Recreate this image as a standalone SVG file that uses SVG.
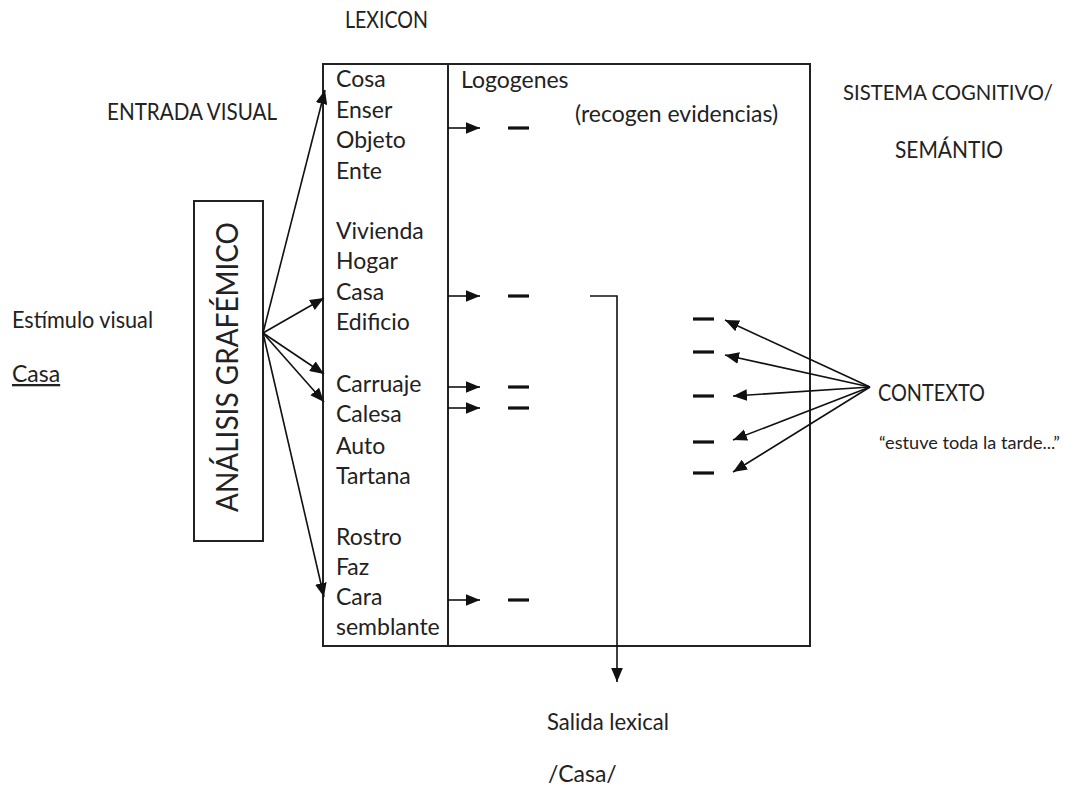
<svg xmlns="http://www.w3.org/2000/svg" width="1065" height="787" viewBox="0 0 1065 787">
<style>
text{font-family:Lato,"Open Sans","Liberation Sans",sans-serif;fill:#222;font-size:23px}
.small{font-size:17.5px}
.big{font-size:30px}
.sis{font-size:21px}
.box{fill:none;stroke:#222;stroke-width:2}
.ln{fill:none;stroke:#111;stroke-width:1.6}
.dash{stroke:#111;stroke-width:3.2}
</style>
<defs>
<marker id="ah" markerUnits="userSpaceOnUse" markerWidth="14" markerHeight="12" refX="12" refY="5" orient="auto" viewBox="0 0 12 10">
<path d="M0,0 L12,5 L0,10 Z" fill="#111"/>
</marker>
</defs>
<rect width="1065" height="787" fill="#fff"/>
<g id="labels">
<text x="345" y="28" textLength="83" lengthAdjust="spacingAndGlyphs">LEXICON</text>
<text x="107" y="120" textLength="170" lengthAdjust="spacingAndGlyphs">ENTRADA VISUAL</text>
<text class="sis" x="843" y="100" textLength="210" lengthAdjust="spacingAndGlyphs">SISTEMA COGNITIVO/</text>
<text x="895" y="158" textLength="108" lengthAdjust="spacingAndGlyphs">SEMÁNTIO</text>
<text x="12" y="328" textLength="141" lengthAdjust="spacingAndGlyphs">Estímulo visual</text>
<text x="12" y="382" text-decoration="underline">Casa</text>
</g>
<g id="analisis">
<rect class="box" x="194" y="201" width="69" height="340"/>
<text class="big" transform="translate(238,512) rotate(-90)" textLength="290" lengthAdjust="spacingAndGlyphs">ANÁLISIS GRAFÉMICO</text>
</g>
<g id="lexicon">
<rect class="box" x="323" y="64" width="487" height="582"/>
<line class="box" x1="448" y1="64" x2="448" y2="646"/>
<text x="336" y="87">Cosa</text>
<text x="336" y="118">Enser</text>
<text x="336" y="148">Objeto</text>
<text x="336" y="179">Ente</text>
<text x="336" y="239">Vivienda</text>
<text x="336" y="269">Hogar</text>
<text x="336" y="300">Casa</text>
<text x="336" y="330">Edificio</text>
<text x="336" y="392">Carruaje</text>
<text x="336" y="422">Calesa</text>
<text x="336" y="454">Auto</text>
<text x="336" y="484">Tartana</text>
<text x="336" y="545">Rostro</text>
<text x="336" y="575">Faz</text>
<text x="336" y="605">Cara</text>
<text x="336" y="635">semblante</text>
<text x="461" y="88">Logogenes</text>
<text x="575" y="122">(recogen evidencias)</text>
</g>
<g id="logogen-dashes">
<line class="dash" x1="508" y1="128" x2="529" y2="128"/>
<line class="dash" x1="508" y1="296" x2="529" y2="296"/>
<line class="dash" x1="508" y1="387" x2="529" y2="387"/>
<line class="dash" x1="508" y1="408" x2="529" y2="408"/>
<line class="dash" x1="508" y1="600" x2="529" y2="600"/>
<line class="dash" x1="693" y1="319" x2="714" y2="319"/>
<line class="dash" x1="693" y1="352" x2="714" y2="352"/>
<line class="dash" x1="693" y1="396" x2="714" y2="396"/>
<line class="dash" x1="693" y1="442" x2="714" y2="442"/>
<line class="dash" x1="693" y1="473" x2="714" y2="473"/>
</g>
<g id="contexto">
<text x="878" y="401" textLength="107" lengthAdjust="spacingAndGlyphs">CONTEXTO</text>
<text class="small" x="879" y="449" textLength="181" lengthAdjust="spacingAndGlyphs">“estuve toda la tarde...”</text>
</g>
<g id="salida">
<text x="547" y="730" textLength="122" lengthAdjust="spacingAndGlyphs">Salida lexical</text>
<text x="548" y="782">/Casa/</text>
</g>
<g id="connectors">
<line class="ln" x1="263" y1="333" x2="325" y2="90" marker-end="url(#ah)"/>
<line class="ln" x1="263" y1="333" x2="324" y2="298" marker-end="url(#ah)"/>
<line class="ln" x1="263" y1="333" x2="324" y2="374" marker-end="url(#ah)"/>
<line class="ln" x1="263" y1="333" x2="324" y2="402" marker-end="url(#ah)"/>
<line class="ln" x1="263" y1="333" x2="324" y2="597" marker-end="url(#ah)"/>
<line class="ln" x1="448" y1="128" x2="480" y2="128" marker-end="url(#ah)"/>
<line class="ln" x1="448" y1="296" x2="480" y2="296" marker-end="url(#ah)"/>
<line class="ln" x1="448" y1="387" x2="480" y2="387" marker-end="url(#ah)"/>
<line class="ln" x1="448" y1="408" x2="480" y2="408" marker-end="url(#ah)"/>
<line class="ln" x1="448" y1="600" x2="480" y2="600" marker-end="url(#ah)"/>
<polyline class="ln" points="590,296 617,296 617,682" marker-end="url(#ah)"/>
<line class="ln" x1="870" y1="387" x2="725" y2="320" marker-end="url(#ah)"/>
<line class="ln" x1="870" y1="387" x2="725" y2="355" marker-end="url(#ah)"/>
<line class="ln" x1="870" y1="387" x2="733" y2="396" marker-end="url(#ah)"/>
<line class="ln" x1="870" y1="387" x2="733" y2="440" marker-end="url(#ah)"/>
<line class="ln" x1="870" y1="387" x2="733" y2="472" marker-end="url(#ah)"/>
</g>
</svg>
